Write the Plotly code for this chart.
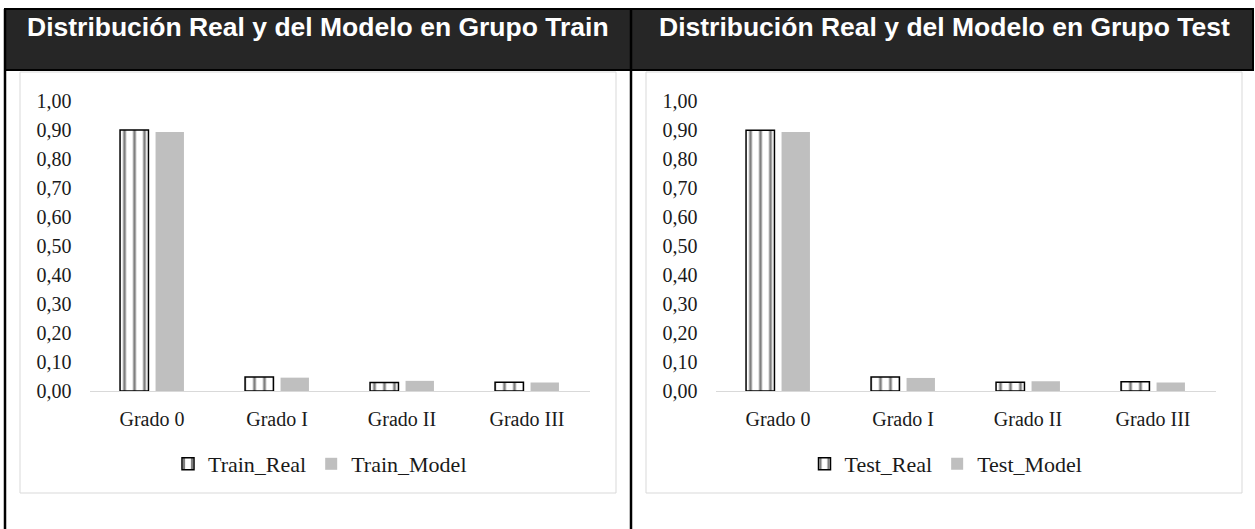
import plotly.graph_objects as go

W, H = 1255, 529

categories = ["Grado 0", "Grado I", "Grado II", "Grado III"]
train_real = [0.900, 0.048, 0.029, 0.030]
train_model = [0.893, 0.046, 0.035, 0.029]
test_real = [0.899, 0.048, 0.030, 0.032]
test_model = [0.893, 0.045, 0.034, 0.029]
titles = ["Distribución Real y del Modelo en Grupo Train",
          "Distribución Real y del Modelo en Grupo Test"]
tick_vals = [0, 0.1, 0.2, 0.3, 0.4, 0.5, 0.6, 0.7, 0.8, 0.9, 1.0]
tick_text = ["0,00", "0,10", "0,20", "0,30", "0,40", "0,50", "0,60", "0,70", "0,80", "0,90", "1,00"]

def px(x):
    return x / W

def py(y):
    return 1 - y / H

SERIF = "Liberation Serif, Times New Roman, serif"
TXT = "#1a1a1a"
fig = go.Figure()

real_style = dict(color="white", line=dict(color="black", width=1.5),
                  pattern=dict(shape="|", fgcolor="black", bgcolor="white", size=10, solidity=0.28))
model_style = dict(color="#bfbfbf", line=dict(width=0))

fig.add_trace(go.Bar(x=categories, y=train_real, name="Train_Real", marker=real_style,
                     xaxis="x", yaxis="y", legend="legend"))
fig.add_trace(go.Bar(x=categories, y=train_model, name="Train_Model", marker=model_style,
                     xaxis="x", yaxis="y", legend="legend"))
fig.add_trace(go.Bar(x=categories, y=test_real, name="Test_Real", marker=real_style,
                     xaxis="x2", yaxis="y2", legend="legend2"))
fig.add_trace(go.Bar(x=categories, y=test_model, name="Test_Model", marker=model_style,
                     xaxis="x2", yaxis="y2", legend="legend2"))

off = 626
ydom = [py(391), py(101)]
xcommon = dict(showgrid=False, showline=True, linecolor="#d9d9d9", linewidth=1,
               ticks="", tickfont=dict(family=SERIF, size=20, color=TXT),
               ticklabelstandoff=10, fixedrange=True, automargin=False)
ycommon = dict(range=[0, 1.0], tickvals=tick_vals, ticktext=tick_text, showgrid=False,
               showline=False, zeroline=False, ticks="",
               tickfont=dict(family=SERIF, size=20, color=TXT),
               ticklabelstandoff=17, fixedrange=True, automargin=False)

legcommon = dict(orientation="h", xanchor="center", yanchor="middle",
                 font=dict(family=SERIF, size=22, color=TXT),
                 bgcolor="rgba(0,0,0,0)", itemwidth=30, tracegroupgap=0)

fig.update_layout(
    width=W, height=H,
    margin=dict(l=0, r=0, t=0, b=0, pad=0, autoexpand=False),
    paper_bgcolor="white", plot_bgcolor="white",
    barmode="group", bargap=0.432, bargroupgap=0.2,
    xaxis=dict(domain=[px(89.5), px(589.5)], anchor="y", **xcommon),
    yaxis=dict(domain=ydom, anchor="x", **ycommon),
    xaxis2=dict(domain=[px(89.5 + off), px(589.5 + off)], anchor="y2", **xcommon),
    yaxis2=dict(domain=ydom, anchor="x2", **ycommon),
    legend=dict(x=px(320), y=py(464), **legcommon),
    legend2=dict(x=px(320 + off), y=py(464), **legcommon),
    showlegend=True,
)

shapes = []
# header band
shapes.append(dict(type="rect", xref="paper", yref="paper",
                   x0=px(5), x1=px(1253), y0=py(70), y1=py(9),
                   fillcolor="#262626", line=dict(color="black", width=2), layer="below"))
# vertical borders
for xv in [5, 631]:
    shapes.append(dict(type="line", xref="paper", yref="paper",
                       x0=px(xv), x1=px(xv), y0=py(529), y1=py(9),
                       line=dict(color="black", width=2.5)))
# panel borders
for x0 in [20, 646]:
    shapes.append(dict(type="rect", xref="paper", yref="paper",
                       x0=px(x0), x1=px(x0 + 596), y0=py(493), y1=py(72),
                       fillcolor="rgba(0,0,0,0)", line=dict(color="#d9d9d9", width=1), layer="below"))
fig.update_layout(shapes=shapes)

for i, t in enumerate(titles):
    fig.add_annotation(text="<b>" + t + "</b>", xref="paper", yref="paper",
                       x=px(318 + i * 626), y=py(27), xanchor="center", yanchor="middle",
                       showarrow=False,
                       font=dict(family="Liberation Sans, Arial, sans-serif", size=26.5, color="white"))

fig.write_html("out.html", config={"displayModeBar": False},
               post_script="document.body.style.margin='0';")
